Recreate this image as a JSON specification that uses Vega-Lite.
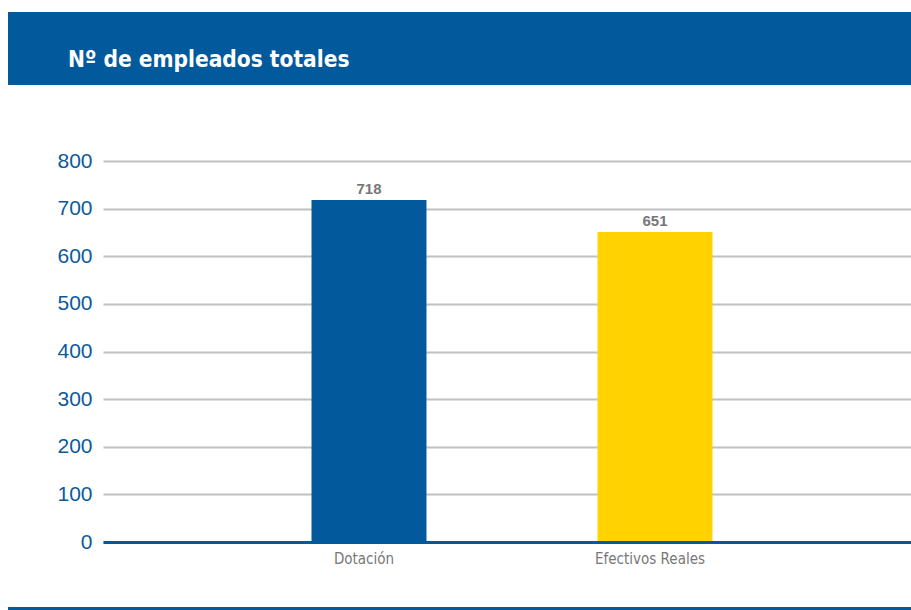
{
  "$schema": "https://vega.github.io/schema/vega-lite/v6.json",
  "padding": {"left": 8, "top": 12, "right": 0, "bottom": 0},
  "background": "white",
  "bounds": "flush",
  "spacing": 76,
  "config": {"view": {"stroke": null}},
  "vconcat": [
    {
      "width": 903,
      "height": 73,
      "view": {"fill": "#02599C", "stroke": null},
      "title": {
        "text": "Nº de empleados totales",
        "anchor": "start",
        "orient": "top",
        "frame": "group",
        "offset": -77,
        "dx": 60,
        "baseline": "alphabetic",
        "font": "DejaVu Sans Condensed, Liberation Sans, sans-serif",
        "fontWeight": "bold",
        "fontSize": 22.5,
        "color": "#FFFFFF"
      },
      "data": {"values": []},
      "mark": "rect"
    },
    {
      "bounds": "flush",
      "spacing": 446,
      "vconcat": [
        {
          "bounds": "flush",
          "spacing": 0,
          "hconcat": [
            {"width": 95, "height": 381, "data": {"values": []}, "mark": "rect"},
            {
              "width": 808,
              "height": 381,
              "data": {
                "values": [
                  {"categoria": "Dotación", "empleados": 718},
                  {"categoria": "Efectivos Reales", "empleados": 651}
                ]
              },
              "encoding": {
                "x": {
                  "field": "categoria",
                  "type": "nominal",
                  "sort": null,
                  "scale": {"paddingInner": 0.598, "paddingOuter": 0.7116},
                  "axis": {
                    "title": null,
                    "labelAngle": 0,
                    "labelFont": "DejaVu Sans Condensed, Liberation Sans, sans-serif",
                    "labelFontSize": 15,
                    "labelColor": "#777777",
                    "labelPadding": 9,
                    "ticks": false,
                    "domainColor": "#02599C",
                    "domainWidth": 3,
                    "grid": false,
                    "zindex": 2
                  }
                },
                "y": {
                  "field": "empleados",
                  "type": "quantitative",
                  "scale": {"domain": [0, 800]},
                  "axis": {
                    "title": null,
                    "values": [0, 100, 200, 300, 400, 500, 600, 700, 800],
                    "grid": true,
                    "gridColor": "#C0C0C0",
                    "gridWidth": 2,
                    "domain": false,
                    "ticks": false,
                    "labelPadding": 11,
                    "labelFont": "Liberation Sans",
                    "labelFontSize": 21,
                    "labelColor": "#0B5A9C"
                  }
                }
              },
              "layer": [
                {
                  "mark": {"type": "bar", "xOffset": 5},
                  "encoding": {
                    "color": {
                      "field": "categoria",
                      "type": "nominal",
                      "scale": {"domain": ["Dotación", "Efectivos Reales"], "range": ["#02599C", "#FFD200"]},
                      "legend": null
                    }
                  }
                },
                {
                  "mark": {
                    "type": "text",
                    "baseline": "alphabetic",
                    "dy": -6,
                    "xOffset": 5,
                    "font": "Liberation Sans",
                    "fontWeight": "bold",
                    "fontSize": 15,
                    "color": "#777777"
                  },
                  "encoding": {"text": {"field": "empleados", "type": "quantitative"}}
                }
              ]
            }
          ]
        },
        {
          "width": 903,
          "height": 3,
          "view": {"fill": "#02599C", "stroke": null},
          "data": {"values": []},
          "mark": "rect"
        }
      ]
    }
  ]
}
